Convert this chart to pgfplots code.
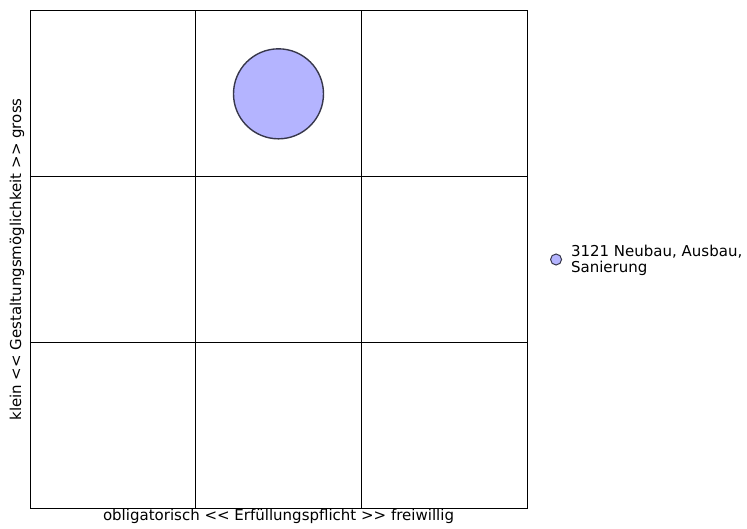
\documentclass[border=0pt]{standalone}
\usepackage{pgfplots}
\pgfplotsset{compat=1.18}
\usepackage{fontspec}
\setmainfont{DejaVu Sans}
\definecolor{bub}{RGB}{180,180,255}
\definecolor{bubedge}{RGB}{55,55,75}
\begin{document}
\begin{tikzpicture}
\useasboundingbox (0,0) rectangle (747bp,529bp);
\begin{axis}[
  at={(30bp,21bp)}, anchor=south west,
  scale only axis, width=497bp, height=497bp,
  xmin=0, xmax=3, ymin=0, ymax=3,
  xtick={1,2}, ytick={1,2}, xticklabels={}, yticklabels={},
  major tick length=0pt,
  grid=major, grid style={black, line width=1pt},
  axis line style={black, line width=1pt},
  xlabel={obligatorisch <{}< Erfüllungspflicht >{}> freiwillig},
  ylabel={klein <{}< Gestaltungsmöglichkeit >{}> gross},
  label style={font=\fontsize{15bp}{17bp}\selectfont},
  xlabel style={at={(0.5,0)}, anchor=north, yshift=-0.5bp, inner sep=0.5bp},
  ylabel style={at={(0,0.5)}, anchor=south, yshift=5bp, inner sep=0.5bp},
  legend style={at={(1.04,0.5)}, anchor=west, draw=none, fill=none,
    font=\fontsize{15bp}{15.5bp}\selectfont, cells={align=left},
    /tikz/every odd column/.append style={column sep=7bp}},
  legend image code/.code={\draw[fill=bub, draw=bubedge, line width=1pt] (0.3em,0) circle (5.5bp);},
  legend cell align=left,
]
\addplot[only marks, mark=*, mark size=45bp, mark options={fill=bub, draw=bubedge, line width=1.4pt}] coordinates {(1.5,2.5)};
\addlegendentry{3121 Neubau, Ausbau,\\Sanierung}
\end{axis}
\end{tikzpicture}
\end{document}
